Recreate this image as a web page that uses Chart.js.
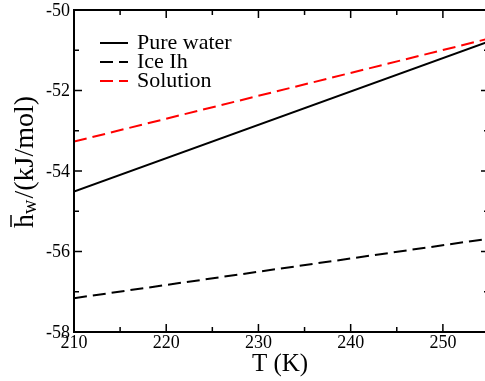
<!DOCTYPE html>
<html lang="en">
<head>
<meta charset="UTF-8">
<title>Enthalpy vs T</title>
<script src="https://cdn.jsdelivr.net/npm/chart.js"></script>
<style>
  html, body { margin: 0; padding: 0; background: #fff; overflow: hidden; }
  #wrap { width: 500px; height: 381px; }
</style>
</head>
<body>
<div id="wrap"><canvas id="c"></canvas></div>
<script>
// values
const temps = [210, 255];
const pureWater = [-54.51, -50.78];
const iceIh = [-57.16, -55.68];
const solution = [-53.27, -50.71];

const xMajor = [210, 220, 230, 240, 250];
const xMinor = [215, 225, 235, 245, 255];
const yMajor = [-58, -56, -54, -52, -50];
const yMinor = [-57, -55, -53, -51];

const serif = '"Liberation Serif", "Times New Roman", serif';

function pts(vals) {
  return vals.map((v, i) => ({ x: temps[i], y: v }));
}

const axesPlugin = {
  id: 'axes',
  afterDraw(chart) {
    const { ctx, chartArea: a } = chart;
    const xs = chart.scales.x, ys = chart.scales.y;
    ctx.save();
    ctx.strokeStyle = '#000';
    ctx.fillStyle = '#000';

    // ticks (inward, mirrored on all sides)
    ctx.lineWidth = 1.5;
    ctx.beginPath();
    const xt = (v, len) => {
      const p = xs.getPixelForValue(v);
      ctx.moveTo(p, a.bottom); ctx.lineTo(p, a.bottom - len);
      ctx.moveTo(p, a.top); ctx.lineTo(p, a.top + len);
    };
    const yt = (v, len) => {
      const p = ys.getPixelForValue(v);
      ctx.moveTo(a.left, p); ctx.lineTo(a.left + len, p);
      ctx.moveTo(a.right, p); ctx.lineTo(a.right - len, p);
    };
    xMajor.forEach(v => xt(v, 8));
    xMinor.forEach(v => xt(v, 5));
    yMajor.forEach(v => yt(v, 8));
    yMinor.forEach(v => yt(v, 5));
    ctx.stroke();

    // frame
    ctx.lineWidth = 2;
    ctx.strokeRect(a.left, a.top, a.right - a.left, a.bottom - a.top);

    // tick labels
    ctx.font = '18px ' + serif;
    ctx.textAlign = 'center';
    ctx.textBaseline = 'alphabetic';
    xMajor.forEach(v => ctx.fillText(String(v), xs.getPixelForValue(v), a.bottom + 16));
    ctx.textAlign = 'right';
    ctx.textBaseline = 'middle';
    yMajor.forEach(v => ctx.fillText(String(v), a.left - 4, ys.getPixelForValue(v) + 1));

    // x title
    ctx.font = '25px ' + serif;
    ctx.textAlign = 'center';
    ctx.textBaseline = 'alphabetic';
    ctx.fillText('T (K)', 280, 371);

    // y title: h-bar with subscript w
    ctx.save();
    ctx.translate(33, 228);
    ctx.rotate(-Math.PI / 2);
    ctx.textAlign = 'left';
    ctx.font = '28px ' + serif;
    const hw = ctx.measureText('h').width;
    ctx.fillText('h', 0, 0);
    ctx.lineWidth = 1.5;
    ctx.beginPath();
    ctx.moveTo(1, -22); ctx.lineTo(hw - 1, -22);
    ctx.stroke();
    ctx.font = '20px ' + serif;
    ctx.fillText('w', hw, 3);
    const ww = ctx.measureText('w').width;
    ctx.font = '28px ' + serif;
    ctx.fillText('/(kJ/mol)', hw + ww + 1, 0);
    ctx.restore();

    // legend
    ctx.font = '22px ' + serif;
    ctx.textAlign = 'left';
    ctx.textBaseline = 'alphabetic';
    chart.data.datasets.forEach((ds, i) => {
      const y = 43 + i * 19;
      ctx.strokeStyle = ds.borderColor;
      ctx.lineWidth = 2;
      ctx.setLineDash(ds.borderDash || []);
      ctx.beginPath();
      ctx.moveTo(100, y); ctx.lineTo(128, y);
      ctx.stroke();
      ctx.setLineDash([]);
      ctx.fillStyle = '#000';
      ctx.fillText(ds.label, 137, y + 6);
    });
    ctx.restore();
  }
};

new Chart(document.getElementById('c'), {
  type: 'scatter',
  data: {
    datasets: [
      { label: 'Pure water', data: pts(pureWater), borderColor: '#000', borderWidth: 2, showLine: true, pointRadius: 0 },
      { label: 'Ice Ih', data: pts(iceIh), borderColor: '#000', borderWidth: 2, borderDash: [13, 6], showLine: true, pointRadius: 0 },
      { label: 'Solution', data: pts(solution), borderColor: '#ff0000', borderWidth: 2, borderDash: [13, 6], showLine: true, pointRadius: 0 }
    ]
  },
  options: {
    responsive: true,
    maintainAspectRatio: false,
    animation: false,
    layout: { padding: { left: 74, right: 11, top: 10, bottom: 49 } },
    scales: {
      x: { type: 'linear', min: 210, max: 255, display: false },
      y: { type: 'linear', min: -58, max: -50, display: false }
    },
    plugins: { legend: { display: false }, tooltip: { enabled: false } }
  },
  plugins: [axesPlugin]
});
</script>
</body>
</html>
